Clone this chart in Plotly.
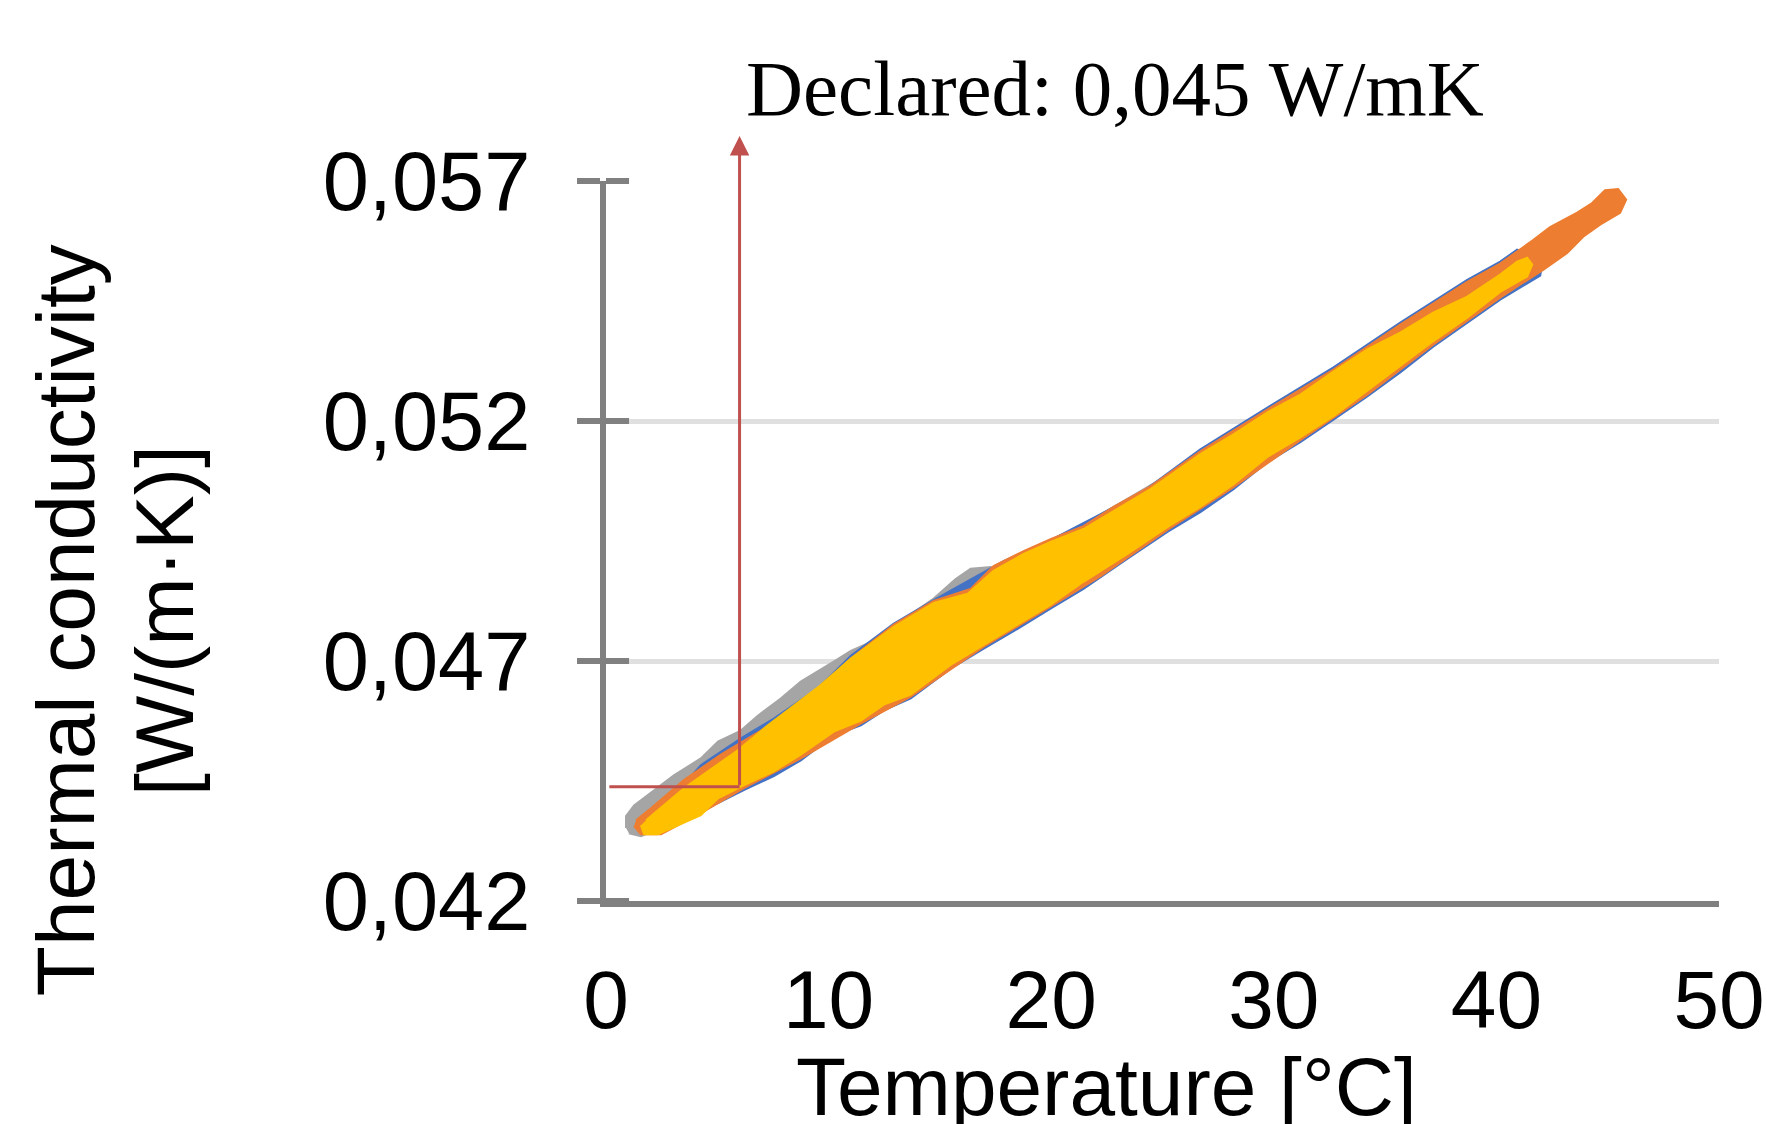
import plotly.graph_objects as go

# ---------------- data ----------------
# Each series is a dense scatter cloud; its outline (T [°C], k [W/(m·K)]) is given
gray_T = [0.90, 0.90, 1.26, 3.05, 4.26, 5.03, 6.06, 6.82, 7.85, 8.75, 10.23, 11.00, 12.21, 13.24,
          14.72, 15.71, 16.38, 17.28, 17.73, 19.97, 26.70, 35.68, 40.17, 43.31, 43.76, 43.99,
          41.97, 35.68, 26.70, 17.73, 11.00, 4.26, 2.47, 1.57, 1.03]
gray_k = [0.04352, 0.04377, 0.04399, 0.04462, 0.04497, 0.04532, 0.04555, 0.04586, 0.04622, 0.04657,
          0.04699, 0.04721, 0.04746, 0.04782, 0.04830, 0.04871, 0.04892, 0.04896, 0.04881, 0.04944,
          0.05127, 0.05380, 0.05505, 0.05623, 0.05636, 0.05615, 0.05532, 0.05349, 0.05079, 0.04830,
          0.04622, 0.04414, 0.04352, 0.04335, 0.04341]

blue_T = [2.47, 4.26, 6.06, 7.54, 9.52, 11.00, 12.93, 14.72, 17.86, 19.97, 22.22, 24.15, 26.70,
          29.71, 32.68, 35.68, 38.69, 40.17, 40.93, 41.74, 42.01,
          41.97, 40.17, 38.69, 37.16, 35.68, 34.20, 32.68, 31.19, 29.71, 28.19, 26.70, 25.22, 23.43,
          21.45, 19.97, 18.49, 16.97, 15.48, 13.69, 12.48, 11.45, 10.23, 8.75, 7.54, 6.19, 5.03,
          3.82, 2.69]
blue_k = [0.04389, 0.04483, 0.04539, 0.04580, 0.04643, 0.04711, 0.04778, 0.04827, 0.04908, 0.04952,
          0.05006, 0.05054, 0.05141, 0.05228, 0.05312, 0.05405, 0.05494, 0.05532, 0.05557, 0.05540,
          0.05515,
          0.05503, 0.05453, 0.05405, 0.05355, 0.05301, 0.05251, 0.05203, 0.05156, 0.05114, 0.05058,
          0.05010, 0.04969, 0.04913, 0.04850, 0.04809, 0.04767, 0.04726, 0.04684, 0.04622, 0.04597,
          0.04566, 0.04545, 0.04493, 0.04460, 0.04431, 0.04404, 0.04383, 0.04368]

orange_T = [1.35, 2.02, 3.50, 5.16, 6.96, 8.75, 11.00, 12.93, 14.72, 16.38, 17.41, 18.76, 19.97,
            21.45, 22.80, 24.46, 26.70, 29.71, 32.68, 35.68, 38.69, 40.17, 41.65, 42.41, 43.63,
            44.30, 44.88, 45.47, 45.83, 45.56, 44.66,
            43.90, 43.18, 42.10, 40.17, 37.16, 34.20, 31.19, 28.19, 25.22, 22.22, 19.97, 16.97,
            13.69, 11.45, 8.75, 6.19, 4.26, 2.47, 1.57, 1.26]
orange_k = [0.04368, 0.04393, 0.04452, 0.04505, 0.04555, 0.04610, 0.04705, 0.04776, 0.04825,
            0.04850, 0.04898, 0.04929, 0.04954, 0.04981, 0.05021, 0.05064, 0.05137, 0.05224,
            0.05307, 0.05401, 0.05490, 0.05528, 0.05577, 0.05604, 0.05634, 0.05654, 0.05681,
            0.05683, 0.05661, 0.05634, 0.05609,
            0.05584, 0.05550, 0.05515, 0.05457, 0.05359, 0.05255, 0.05160, 0.05062, 0.04973,
            0.04877, 0.04813, 0.04730, 0.04626, 0.04570, 0.04497, 0.04435, 0.04383, 0.04339,
            0.04339, 0.04356]

yellow_T = [1.80, 3.50, 5.92, 7.27, 9.52, 11.00, 12.93, 14.72, 16.25, 17.41, 18.76, 19.97, 21.45,
            22.80, 24.46, 26.70, 28.19, 29.71, 31.19, 32.68, 34.20, 35.68, 37.16, 38.69, 40.17,
            40.93, 41.38, 41.61,
            41.38, 40.17, 38.69, 37.16, 35.68, 34.20, 32.68, 31.19, 29.71, 28.19, 26.70, 25.22,
            23.43, 21.45, 19.97, 18.49, 16.97, 15.48, 13.69, 12.48, 11.45, 10.23, 8.75, 7.54,
            6.19, 5.03, 4.26, 2.33, 1.71, 1.57]
yellow_k = [0.04368, 0.04435, 0.04514, 0.04566, 0.04645, 0.04705, 0.04771, 0.04821, 0.04840,
            0.04888, 0.04923, 0.04948, 0.04975, 0.05012, 0.05058, 0.05131, 0.05172, 0.05218,
            0.05255, 0.05303, 0.05349, 0.05384, 0.05426, 0.05459, 0.05505, 0.05532, 0.05540,
            0.05526,
            0.05501, 0.05469, 0.05415, 0.05366, 0.05314, 0.05262, 0.05210, 0.05166, 0.05125,
            0.05068, 0.05021, 0.04979, 0.04923, 0.04865, 0.04817, 0.04776, 0.04734, 0.04692,
            0.04630, 0.04609, 0.04576, 0.04553, 0.04505, 0.04470, 0.04441, 0.04414, 0.04379,
            0.04339, 0.04339, 0.04358]

x_ticks = [0, 10, 20, 30, 40, 50]
x_tick_labels = ["0", "10", "20", "30", "40", "50"]
y_ticks = [0.042, 0.047, 0.052, 0.057]
y_tick_labels = ["0,042", "0,047", "0,052", "0,057"]

declared_T = 6.0        # vertical marker line position
declared_k = 0.04438    # horizontal marker line position
arrow_tip_k = 0.05794
marker_start_T = 0.15

x_range = [0, 50]
y_range = [0.042, 0.057]

# ---------------- figure ----------------
series = [
    (gray_T, gray_k, "#A5A5A5"),
    (blue_T, blue_k, "#4472C4"),
    (orange_T, orange_k, "#ED7D31"),
    (yellow_T, yellow_k, "#FFC000"),
]

fig = go.Figure()
for T, k, col in series:
    fig.add_trace(go.Scatter(
        x=T, y=k, mode="lines", fill="toself", fillcolor=col,
        line=dict(color=col, width=2), hoverinfo="skip", showlegend=False,
    ))

AXIS_GRAY = "#808080"
RED = "#C0504D"
SANS = "Liberation Sans, Arial, sans-serif"

fig.update_layout(
    width=1767, height=1124,
    margin=dict(l=606, r=48, t=181, b=223, pad=0, autoexpand=False),
    paper_bgcolor="white", plot_bgcolor="white",
    showlegend=False,
    font=dict(family=SANS, size=80, color="black"),
    xaxis=dict(
        range=x_range, tickvals=x_ticks, ticktext=x_tick_labels,
        showgrid=False, zeroline=False, showline=True, automargin=False,
        linecolor=AXIS_GRAY, linewidth=6, ticks="",
        tickfont=dict(family=SANS, size=82, color="black"),
        ticklabelstandoff=23,
    ),
    yaxis=dict(
        range=y_range, tickvals=y_ticks, ticktext=y_tick_labels,
        showgrid=True, gridcolor="#E0E0E0", gridwidth=5, zeroline=False,
        showline=True, linecolor=AXIS_GRAY, linewidth=6, automargin=False,
        ticks="outside", ticklen=23, tickwidth=6, tickcolor=AXIS_GRAY,
        tickfont=dict(family=SANS, size=83, color="black"),
        ticklabelstandoff=30,
    ),
)

# inner half of the crossing tick marks on the y axis
for v in y_ticks:
    yf = (v - y_range[0]) / (y_range[1] - y_range[0])
    fig.add_shape(type="line", xref="paper", yref="paper", x0=0, x1=0.0207, y0=yf, y1=yf,
                  line=dict(color=AXIS_GRAY, width=6), layer="above")

# declared-value marker lines
fig.add_shape(type="line", xref="x", yref="y", x0=marker_start_T, x1=declared_T,
              y0=declared_k, y1=declared_k, line=dict(color=RED, width=3), layer="above")
fig.add_annotation(x=declared_T, y=arrow_tip_k, xref="x", yref="y",
                   ax=declared_T, ay=declared_k, axref="x", ayref="y",
                   text="", showarrow=True, arrowhead=2, arrowsize=1.3, arrowwidth=3,
                   arrowcolor=RED, standoff=0)

# texts
fig.add_annotation(text="Declared: 0,045 W/mK", xref="paper", yref="paper",
                   x=0.4569, y=1.129, xanchor="center", yanchor="middle", showarrow=False,
                   font=dict(family="Liberation Serif, Times New Roman, serif", size=79, color="black"))
fig.add_annotation(text="Thermal conductivity", xref="paper", yref="paper",
                   x=-0.4861, y=0.390, xanchor="center", yanchor="middle", textangle=-90,
                   showarrow=False, font=dict(family=SANS, size=82, color="black"))
fig.add_annotation(text="[W/(m·K)]", xref="paper", yref="paper",
                   x=-0.3965, y=0.390, xanchor="center", yanchor="middle", textangle=-90,
                   showarrow=False, font=dict(family=SANS, size=82, color="black"))
fig.add_annotation(text="Temperature [°C]", xref="paper", yref="paper",
                   x=0.450, y=-0.257, xanchor="center", yanchor="middle", showarrow=False,
                   font=dict(family=SANS, size=82, color="black"))

fig.write_html("out.html")
